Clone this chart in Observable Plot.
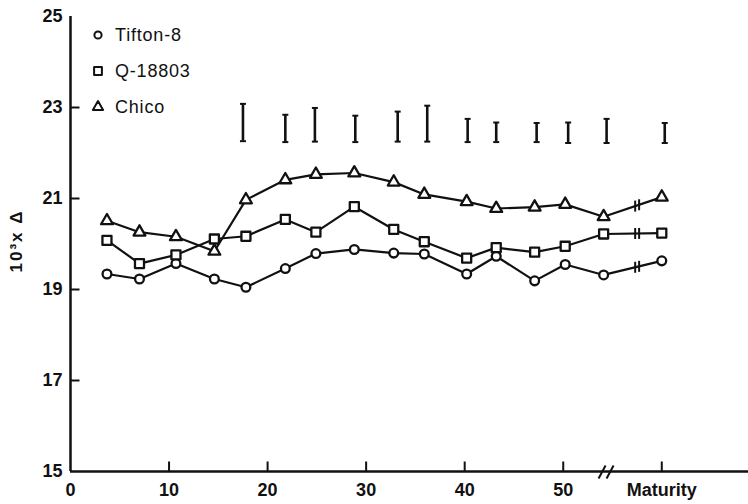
<!DOCTYPE html>
<html><head><meta charset="utf-8">
<script src="https://cdn.jsdelivr.net/npm/d3@7"></script>
<script src="https://cdn.jsdelivr.net/npm/@observablehq/plot@0.6"></script>
<style>
body{margin:0;background:#fff;}
#wrap{position:relative;width:748px;height:504px;}
#legend{position:absolute;left:91px;top:17px;font-family:"Liberation Sans",Arial,sans-serif;font-size:18px;letter-spacing:0.8px;color:#111;}
.item{display:flex;align-items:center;height:36px;}
.item svg{margin-right:10px;flex:none}
#ylabel{position:absolute;left:16px;top:241px;transform:translate(-50%,-50%) rotate(-90deg);white-space:nowrap;
  font-family:"Liberation Sans",Arial,sans-serif;font-size:17px;font-weight:bold;letter-spacing:2px;color:#111;line-height:1;}
</style></head><body><div id="wrap"><div id="legend"></div><div id="ylabel"></div></div>
<script>
// ---- data ----
const days = [3.7, 7, 10.7, 14.6, 17.8, 21.8, 24.9, 28.8, 32.8, 35.9, 40.2, 43.2, 47.1, 50.2, 54.1, 60];
const tifton = [19.34, 19.23, 19.57, 19.23, 19.05, 19.46, 19.79, 19.88, 19.80, 19.78, 19.34, 19.73, 19.19, 19.55, 19.32, 19.63];
const q18803 = [20.08, 19.57, 19.76, 20.11, 20.17, 20.54, 20.26, 20.82, 20.32, 20.05, 19.69, 19.92, 19.82, 19.95, 20.22, 20.24];
const chico  = [20.51, 20.26, 20.16, 19.84, 20.97, 21.41, 21.53, 21.56, 21.36, 21.09, 20.93, 20.78, 20.81, 20.87, 20.60, 21.03];
const lsdDays   = [17.5, 21.8, 24.8, 28.9, 33.2, 36.2, 40.3, 43.2, 47.3, 50.5, 54.4, 60.3];
const lsdTop    = [23.08, 22.84, 22.99, 22.82, 22.91, 23.04, 22.75, 22.67, 22.66, 22.67, 22.75, 22.66];
const lsdBottom = [22.26, 22.24, 22.25, 22.24, 22.25, 22.25, 22.24, 22.24, 22.24, 22.22, 22.22, 22.22];
const seriesNames = ["Tifton-8", "Q-18803", "Chico"];
const seriesSymbols = ["circle", "square", "triangle"];
const yTicks = [15, 17, 19, 21, 23, 25];
const xTicks = [0, 10, 20, 30, 40, 50, 60];
const xTickLabels = ["0", "10", "20", "30", "40", "50", "Maturity"];
const axisBreakDay = 54.6;
const lineBreakDays = [57.3, 57.7];
const yLabel = "10³x Δ";

// ---- build tables ----
const seriesValues = [tifton, q18803, chico];
const rows = seriesNames.flatMap((name, s) => days.map((d, i) => ({series: name, day: d, value: seriesValues[s][i]})));
const lsd = lsdDays.map((d, i) => ({day: d, top: lsdTop[i], bottom: lsdBottom[i]}));
// break ticks sit on each line between the last dated sample and maturity
const breaks = seriesValues.flatMap(vals => {
  const n = days.length;
  const d0 = days[n - 2], d1 = days[n - 1], v0 = vals[n - 2], v1 = vals[n - 1];
  return lineBreakDays.map(b => ({day: b, value: v0 + (b - d0) / (d1 - d0) * (v1 - v0)}));
});

const ink = "#111";
const vTick = {draw(c){ c.moveTo(0, -5.5); c.lineTo(0, 5.5); }};
const cap = {draw(c){ c.moveTo(-3, 0); c.lineTo(3, 0); }};
const upTick = {draw(c){ c.moveTo(0, 0); c.lineTo(0, -10); }};
const rightTick = {draw(c){ c.moveTo(0, 0); c.lineTo(9, 0); }};
const slashes = {draw(c){ c.moveTo(-10, 7); c.lineTo(-3, -6); c.moveTo(-2, 7); c.lineTo(5, -6); }};

const dotR = {circle: 4.4, square: 5.1, triangle: 4.4};

const chart = Plot.plot({
  width: 748,
  height: 504,
  marginLeft: 70,
  marginRight: 0,
  marginTop: 16,
  marginBottom: 33,
  style: {fontFamily: "Liberation Sans, Arial, sans-serif", fontSize: "18px", fontWeight: "bold", background: "white", color: ink},
  x: {domain: [0, 68.8], axis: null},
  y: {domain: [15, 25], axis: null},
  marks: [
    Plot.axisY({ticks: yTicks, tickSize: 0, tickPadding: 8, label: null}),
    Plot.axisX({ticks: xTicks, tickSize: 0, tickPadding: 12, label: null,
      tickFormat: d => xTickLabels[xTicks.indexOf(d)]}),
    Plot.ruleX([0], {stroke: ink, strokeWidth: 2.5}),
    Plot.ruleY([15], {stroke: ink, strokeWidth: 2.5}),
    Plot.dot(yTicks.filter(t => t > 15 && t < 25), {x: 0, y: d => d, symbol: rightTick, fill: "none", stroke: ink, strokeWidth: 2}),
    Plot.dot(xTicks.filter(t => t > 0), {x: d => d, y: 15, symbol: upTick, fill: "none", stroke: ink, strokeWidth: 2}),
    Plot.dot([axisBreakDay], {x: d => d, y: 15, symbol: slashes, fill: "none", stroke: ink, strokeWidth: 2}),
    Plot.ruleX(lsd, {x: "day", y1: "bottom", y2: "top", stroke: ink, strokeWidth: 2.6}),
    Plot.dot(lsd, {x: "day", y: "top", symbol: cap, fill: "none", stroke: ink, strokeWidth: 2}),
    Plot.dot(lsd, {x: "day", y: "bottom", symbol: cap, fill: "none", stroke: ink, strokeWidth: 2}),
    Plot.line(rows, {x: "day", y: "value", z: "series", stroke: ink, strokeWidth: 2.2}),
    Plot.dot(breaks, {x: "day", y: "value", symbol: vTick, fill: "none", stroke: ink, strokeWidth: 2}),
    ...seriesNames.map((name, s) => Plot.dot(rows.filter(r => r.series === name), {
      x: "day", y: "value", symbol: seriesSymbols[s], r: dotR[seriesSymbols[s]],
      fill: "white", stroke: ink, strokeWidth: 2.3, strokeLinejoin: "round"
    }))
  ]
});
document.getElementById("wrap").prepend(chart);
document.getElementById("ylabel").textContent = yLabel;

// legend
const legend = document.getElementById("legend");
seriesNames.forEach((name, s) => {
  const item = document.createElement("div");
  item.className = "item";
  const sym = d3.symbol(s === 0 ? d3.symbolCircle : s === 1 ? d3.symbolSquare : d3.symbolTriangle,
    Math.PI * Math.pow(s === 0 ? 3.6 : s === 1 ? 4.4 : 3.8, 2))();
  item.innerHTML = `<svg width="14" height="14" viewBox="-7 -7 14 14"><path d="${sym}" fill="white" stroke="${ink}" stroke-width="2" stroke-linejoin="round"/></svg><span>${name}</span>`;
  legend.appendChild(item);
});
</script></body></html>
